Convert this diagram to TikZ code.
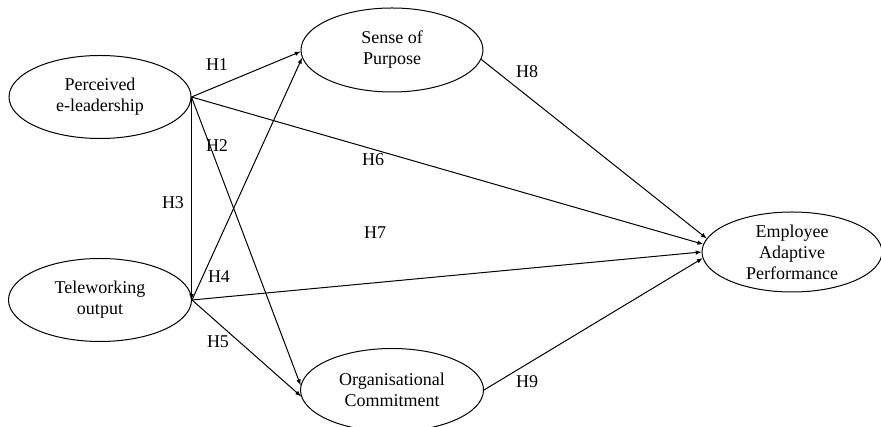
\documentclass[tikz,border=0pt]{standalone}
\usepackage{fontspec}
\setmainfont{Liberation Serif}
\usetikzlibrary{shapes.geometric}
\begin{document}
\begin{tikzpicture}[x=1pt, y=1pt, >=latex, line width=1pt,
  latent/.style={ellipse, draw, align=center, inner sep=0pt, minimum width=182pt, minimum height=83pt, font=\fontsize{18}{21}\selectfont},
  hyp/.style={font=\fontsize{18}{21}\selectfont}]
\useasboundingbox (0,0) rectangle (881,427);

\node[latent] (perc) at (100,330){Perceived\\e-leadership};
\node[latent, minimum width=183pt] (tele) at (100,127){Teleworking\\output};
\node[latent, minimum height=84pt] (sense) at (392,377){Sense of\\Purpose};
\node[latent, minimum width=183pt] (org) at (392,37){Organisational\\Commitment};
\node[latent, minimum width=180pt, minimum height=80pt] (emp) at (792,175){Employee\\Adaptive\\Performance};

\draw[->] (perc.east)--(sense.181);
\draw[->] (perc.east)--(org.177);
\draw[->] (perc.east)--(perc.east |- tele.east);
\draw[->] (tele.east)--(sense.185);
\draw[->] (tele.east)--(org.184);
\draw[->] (perc.east)--(emp.175);
\draw[->] (tele.east)--(emp.180);
\draw[->] (sense.-6)--(emp.171);
\draw[->] (org.east)--(emp.184);

\node[hyp] (h1) at (217,362){H1};  \node[hyp] (h2) at (217,281){H2};
\node[hyp] (h3) at (173,224){H3};  \node[hyp] (h4) at (219,150){H4};
\node[hyp] (h5) at (218,85){H5};   \node[hyp] (h6) at (373,267){H6};
\node[hyp] (h7) at (375,194){H7};  \node[hyp] (h8) at (527,355){H8};
\node[hyp] (h9) at (527,45){H9};
\end{tikzpicture}
\end{document}
